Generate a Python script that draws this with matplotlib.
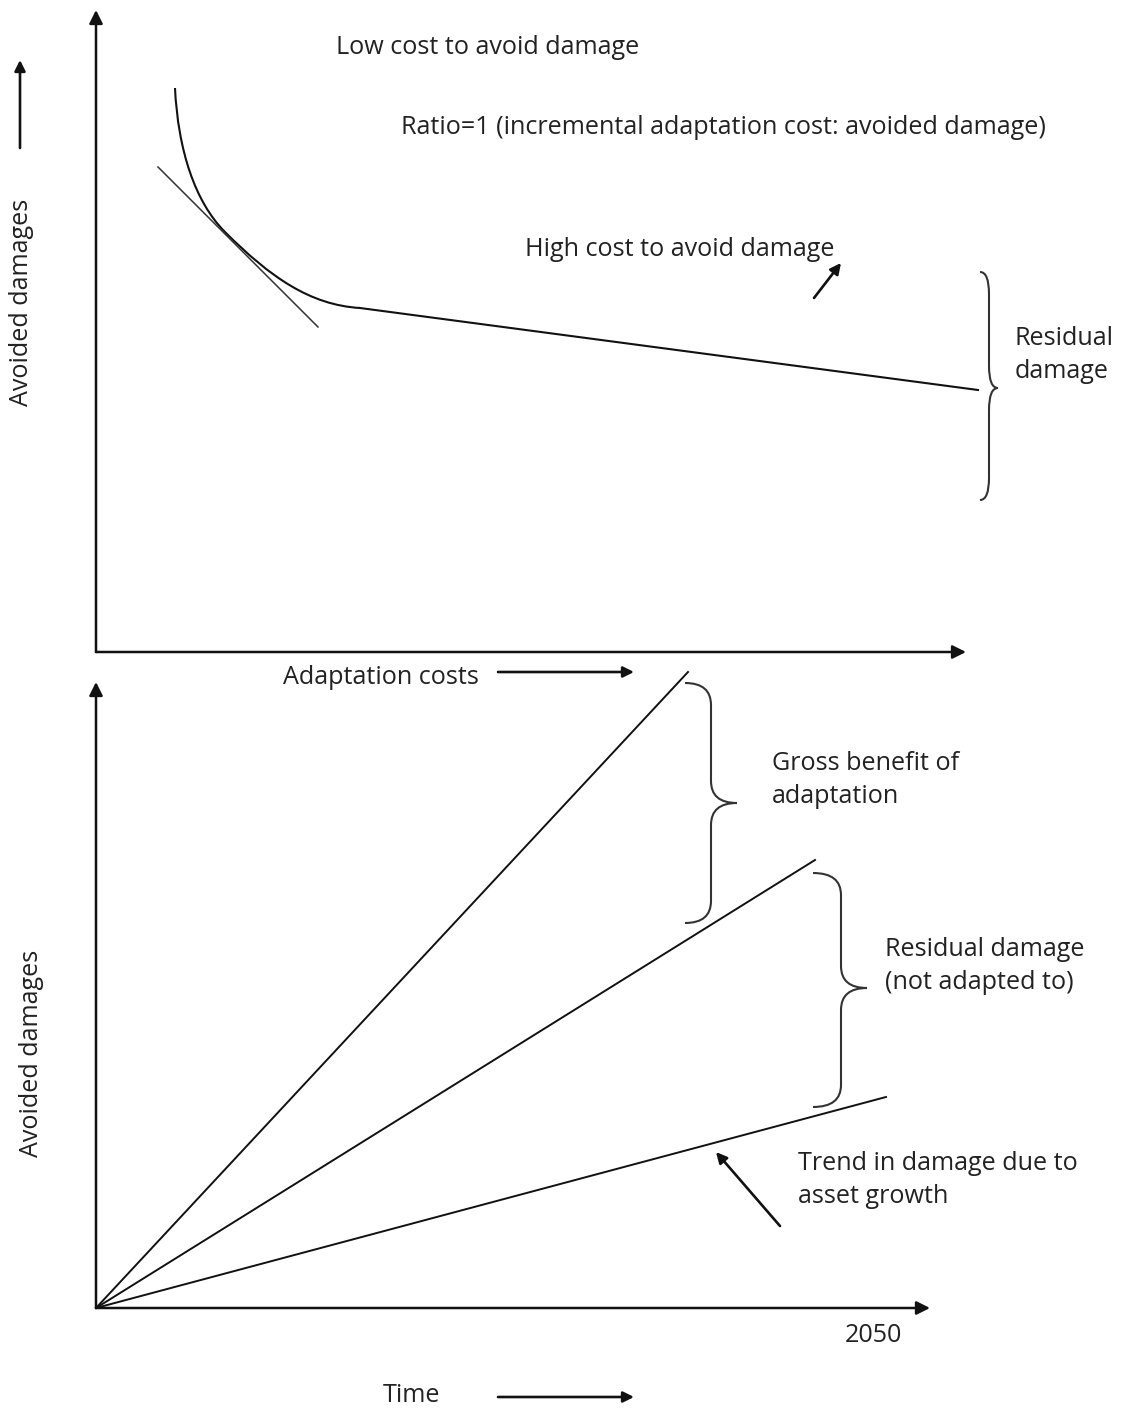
import matplotlib.pyplot as plt
from matplotlib.path import Path
from matplotlib.patches import PathPatch

plt.rcParams['font.family'] = ['Open Sans', 'DejaVu Sans']

# --- diagram data (pixel space of the page, y grows downward) ---
# top panel: cost curve as two Bezier pieces, then straight tail
curve_nodes = [(175, 88), (178, 150), (195, 202), (225, 232),
               (270, 277), (310, 305), (360, 308)]
curve_tail = [(360, 308), (978, 390)]
tangent = [(158, 167), (318, 327)]

# bottom panel: three rays from the origin
origin = (96, 1308)
ray_ends = [(688, 672), (815, 860), (886, 1097)]

# braces: (x_open, y_top, y_bottom, x_spine, x_tip, y_tip)
braces = [
    (980, 272, 500, 989, 998, 388),
    (685, 683, 923, 711, 737, 803),
    (813, 873, 1107, 841, 867, 988),
]

labels = [
    (336, 47, "Low cost to avoid damage"),
    (401, 127, "Ratio=1 (incremental adaptation cost: avoided damage)"),
    (525, 249, "High cost to avoid damage"),
    (1015, 355, "Residual\ndamage"),
    (283, 678, "Adaptation costs"),
    (772, 780, "Gross benefit of\nadaptation"),
    (885, 966, "Residual damage\n(not adapted to)"),
    (798, 1180, "Trend in damage due to\nasset growth"),
    (845, 1336, "2050"),
    (383, 1395, "Time"),
]

ink = '#111111'
txt = '#222222'
fs = 18.1

fig = plt.figure(figsize=(11.22, 14.12), dpi=100)
ax = fig.add_axes([0, 0, 1, 1])
ax.set_xlim(0, 1122)
ax.set_ylim(1412, 0)
ax.axis('off')


def arrow(p0, p1, lw=1.6, head=12):
    ax.annotate('', xy=p1, xytext=p0,
                arrowprops=dict(arrowstyle='-|>', color=ink, lw=lw,
                                mutation_scale=head, shrinkA=0, shrinkB=0))


# axes
arrow((96, 652), (96, 10), lw=1.8, head=20)
arrow((96, 652), (966, 652), lw=1.8, head=20)
arrow((96, 1308), (96, 682), lw=1.8, head=20)
arrow((96, 1308), (930, 1308), lw=1.8, head=20)

# curve
C = Path.CURVE4
ax.add_patch(PathPatch(Path(curve_nodes, [Path.MOVETO, C, C, C, C, C, C]),
                       fill=False, ec=ink, lw=1.5))
ax.plot([p[0] for p in curve_tail], [p[1] for p in curve_tail], color=ink, lw=1.5)
ax.plot([p[0] for p in tangent], [p[1] for p in tangent], color='#333333', lw=1.1)

for ex, ey in ray_ends:
    ax.plot([origin[0], ex], [origin[1], ey], color=ink, lw=1.4)

# braces
for x0, yt, yb, xs, xt, ym in braces:
    r = 22
    verts = [(x0, yt), (xs, yt), (xs, yt + r),
             (xs, ym - r),
             (xs, ym), (xt, ym),
             (xs, ym), (xs, ym + r),
             (xs, yb - r),
             (xs, yb), (x0, yb)]
    codes = [Path.MOVETO, Path.CURVE3, Path.CURVE3,
             Path.LINETO,
             Path.CURVE3, Path.CURVE3,
             Path.CURVE3, Path.CURVE3,
             Path.LINETO,
             Path.CURVE3, Path.CURVE3]
    ax.add_patch(PathPatch(Path(verts, codes), fill=False, ec='#333333', lw=1.5))

# small pointer arrows
arrow((814, 298), (841, 263), lw=1.9, head=16)
arrow((780, 1226), (716, 1152), lw=1.9, head=16)
arrow((498, 672), (634, 672), lw=1.9, head=16)
arrow((498, 1397), (634, 1397), lw=1.9, head=16)
arrow((20, 148), (20, 60), lw=1.9, head=16)

for x, y, s in labels:
    ax.text(x, y, s, fontsize=fs, color=txt, ha='left', va='center', linespacing=1.45)

ax.text(22, 302, "Avoided damages", fontsize=fs, color=txt, rotation=90, ha='center', va='center')
ax.text(32, 1053, "Avoided damages", fontsize=fs, color=txt, rotation=90, ha='center', va='center')

fig.savefig('out.png', dpi=100)
